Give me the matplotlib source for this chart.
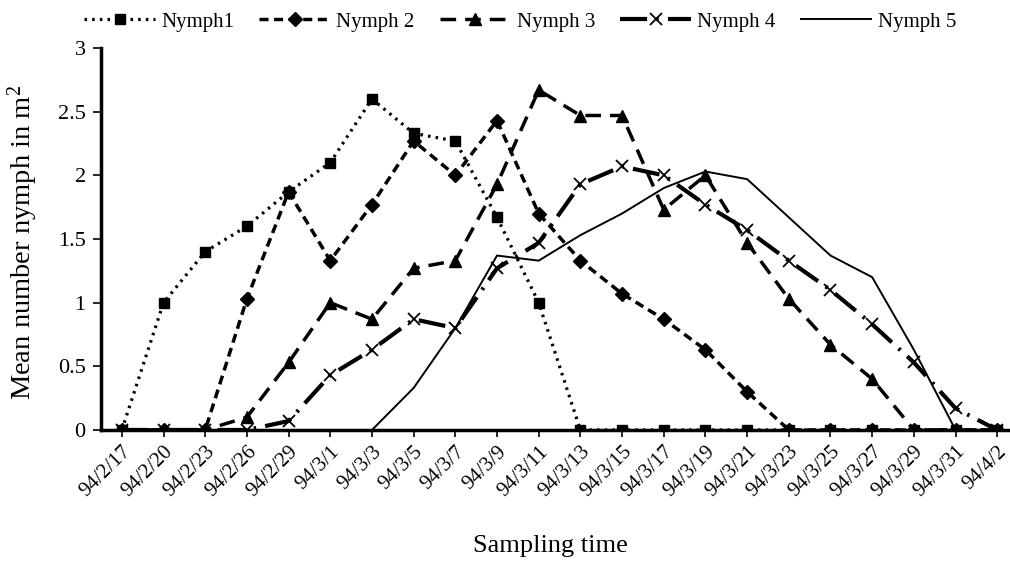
import matplotlib
matplotlib.use('Agg')
import matplotlib.pyplot as plt
import numpy as np

plt.rcParams['font.family'] = ['Liberation Serif', 'DejaVu Serif']
plt.rcParams['mathtext.fontset'] = 'custom'
plt.rcParams['mathtext.rm'] = 'Liberation Serif'
plt.rcParams['mathtext.it'] = 'Liberation Serif:italic'

# fechas de muestreo
fechas = ['94/2/17', '94/2/20', '94/2/23', '94/2/26', '94/2/29', '94/3/1',
          '94/3/3', '94/3/5', '94/3/7', '94/3/9', '94/3/11', '94/3/13',
          '94/3/15', '94/3/17', '94/3/19', '94/3/21', '94/3/23', '94/3/25',
          '94/3/27', '94/3/29', '94/3/31', '94/4/2']

nymph1 = [0, 1.0, 1.4, 1.6, 1.87, 2.1, 2.6, 2.33, 2.27, 1.67, 1.0, 0,
          0, 0, 0, 0, 0, 0, 0, 0, 0, 0]
nymph2 = [0, 0, 0, 1.03, 1.87, 1.33, 1.77, 2.27, 2.0, 2.43, 1.7, 1.33,
          1.07, 0.87, 0.63, 0.3, 0, 0, 0, 0, 0, 0]
nymph3 = [0, 0, 0, 0.1, 0.53, 1.0, 0.87, 1.27, 1.33, 1.93, 2.67, 2.47,
          2.47, 1.73, 2.0, 1.47, 1.03, 0.67, 0.4, 0, 0, 0]
nymph4 = [0, 0, 0, 0, 0.07, 0.43, 0.63, 0.87, 0.8, 1.27, 1.47, 1.93,
          2.07, 2.0, 1.77, 1.57, 1.33, 1.1, 0.83, 0.53, 0.17, 0]
nymph5 = [0, 0, 0, 0, 0, 0, 0, 0.33, 0.8, 1.37, 1.33, 1.53,
          1.7, 1.9, 2.03, 1.97, 1.67, 1.37, 1.2, 0.63, 0, 0]

x = np.arange(len(fechas))

fig = plt.figure(figsize=(10.1, 5.65), dpi=100)
ax = fig.add_axes([0.1, 0.239, 0.908, 0.676])

ax.plot(x, nymph5, color='black', lw=1.4, linestyle='-', label='Nymph 5', zorder=2)
ax.plot(x, nymph1, color='black', lw=2.3, linestyle=(0, (0.8, 1.6)),
        marker='s', markersize=7.5, label='Nymph1', zorder=3)
ax.plot(x, nymph2, color='black', lw=2.5, linestyle=(0, (2.6, 1.6)),
        marker='D', markersize=7, label='Nymph 2', zorder=4)
ax.plot(x, nymph3, color='black', lw=2.5, linestyle=(0, (4.5, 2.6)),
        marker='^', markersize=9, label='Nymph 3', zorder=5)
ax.plot(x, nymph4, color='black', lw=3, linestyle=(0, (6.5, 2.2, 0.6, 2.2)),
        marker='x', markersize=8.5, markeredgewidth=1.3, label='Nymph 4', zorder=6)

ax.set_xlim(-0.5, len(fechas) - 0.5)
ax.set_ylim(0, 3)
ax.set_yticks([0, 0.5, 1, 1.5, 2, 2.5, 3])
ax.set_yticklabels(['0', '0.5', '1', '1.5', '2', '2.5', '3'])
ax.set_xticks(x)
ax.set_xticklabels(fechas, rotation=45, ha='right', rotation_mode='anchor')

for lado in ['top', 'right']:
    ax.spines[lado].set_visible(False)
for lado in ['left', 'bottom']:
    ax.spines[lado].set_linewidth(2.5)
ax.spines['bottom'].set_zorder(1)

ax.tick_params(axis='y', labelsize=16, width=1.2, length=6, colors='black', pad=5)
ax.tick_params(axis='x', labelsize=15, width=1.2, length=5, colors='black', pad=4)

ax.set_ylabel('Mean number nymph in m$^2$', fontsize=20.5)
ax.set_xlabel('Sampling time', fontsize=19)
ax.yaxis.set_label_coords(-0.066, 0.49)
ax.xaxis.set_label_coords(0.49, -0.275)

# orden de la leyenda
handles, labels = ax.get_legend_handles_labels()
orden = ['Nymph1', 'Nymph 2', 'Nymph 3', 'Nymph 4', 'Nymph 5']
hs = [handles[labels.index(o)] for o in orden]
fig.legend(hs, orden, loc='upper center', bbox_to_anchor=(0.515, 1.012), ncol=5,
           frameon=False, fontsize=15, handlelength=3.4, columnspacing=1.2,
           handletextpad=0.3)

fig.savefig('out.png', dpi=100)
